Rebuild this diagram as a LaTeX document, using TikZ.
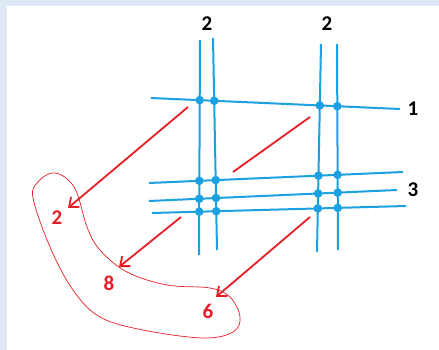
\documentclass[tikz,border=0pt]{standalone}
\usepackage{fontspec}
\setmainfont{Carlito}
\usetikzlibrary{arrows.meta}
\definecolor{frameblue}{RGB}{222,233,245}
\definecolor{gridblue}{RGB}{27,160,226}
\definecolor{markred}{RGB}{232,30,38}
\tikzset{
  gridline/.style={draw=gridblue, line width=2pt},
  griddot/.style={fill=gridblue},
  redarrow/.style={draw=markred, line width=1.8pt, -{Straight Barb[length=8pt,width=13pt,line width=1.8pt]}},
  redline/.style={draw=markred, line width=1.8pt},
  blob/.style={draw=markred, line width=0.7pt},
  blacklabel/.style={font=\fontsize{21}{24}\selectfont\bfseries, text=black, inner sep=0pt},
  redlabel/.style={font=\fontsize{21}{24}\selectfont\bfseries, text=markred, inner sep=0pt}
}
\begin{document}
\begin{tikzpicture}[x=1pt,y=-1pt]
\useasboundingbox (0,0) rectangle (439,350);
\fill[frameblue] (0,0) rectangle (439,350);
\fill[white] (7,6) rectangle (439,350);
% grid lines
\coordinate (V1t) at (200,40);  \coordinate (V1b) at (199,255);
\coordinate (V2t) at (213,38);  \coordinate (V2b) at (217,250);
\coordinate (V3t) at (321,44);  \coordinate (V3b) at (317,252);
\coordinate (V4t) at (337,44);  \coordinate (V4b) at (338,250);
\coordinate (H1l) at (151,98);  \coordinate (H1r) at (400,109);
\coordinate (HAl) at (149,183); \coordinate (HAr) at (403,172);
\coordinate (HBl) at (149,201); \coordinate (HBr) at (397,190);
\coordinate (HCl) at (152,213); \coordinate (HCr) at (406,206);
\foreach \v in {V1,V2,V3,V4} {\draw[gridline] (\v t) -- (\v b);}
\foreach \h in {H1,HA,HB,HC} {\draw[gridline] (\h l) -- (\h r);}
\foreach \v in {V1,V2,V3,V4} {
  \foreach \h in {H1,HA,HB,HC} {
    \fill[griddot] (intersection of \v t--\v b and \h l--\h r) circle[radius=4.3pt];
  }
}
% labels
\node[blacklabel] (t1) at (207,24) {2};
\node[blacklabel] (t2) at (327,24) {2};
\node[blacklabel] (r1) at (413,109) {1};
\node[blacklabel] (r3) at (413,190) {3};
% red blob
\draw[blob] plot[smooth cycle, tension=0.6] coordinates {
  (52,173) (38,182) (33,198) (50,247) (73,290) (100,317) (143,330)
  (203,338) (233,332) (240,317) (230,297) (210,288) (167,285)
  (127,272) (100,250) (87,227) (77,193) (66,178)};
% red labels
\node[redlabel] (n2) at (57,218) {2};
\node[redlabel] (n8) at (109,283) {8};
\node[redlabel] (n6) at (208,311) {6};
% red arrows
\coordinate (a1s) at (188,107); \coordinate (a1e) at (68,208);
\coordinate (a2s) at (310,117); \coordinate (a2e) at (233,172);
\coordinate (a3s) at (181,217); \coordinate (a3e) at (119,267);
\coordinate (a4s) at (310,217); \coordinate (a4e) at (216,297);
\draw[redarrow] (a1s) -- (a1e);
\draw[redline] (a2s) -- (a2e);
\draw[redarrow] (a3s) -- (a3e);
\draw[redarrow] (a4s) -- (a4e);
\end{tikzpicture}
\end{document}
